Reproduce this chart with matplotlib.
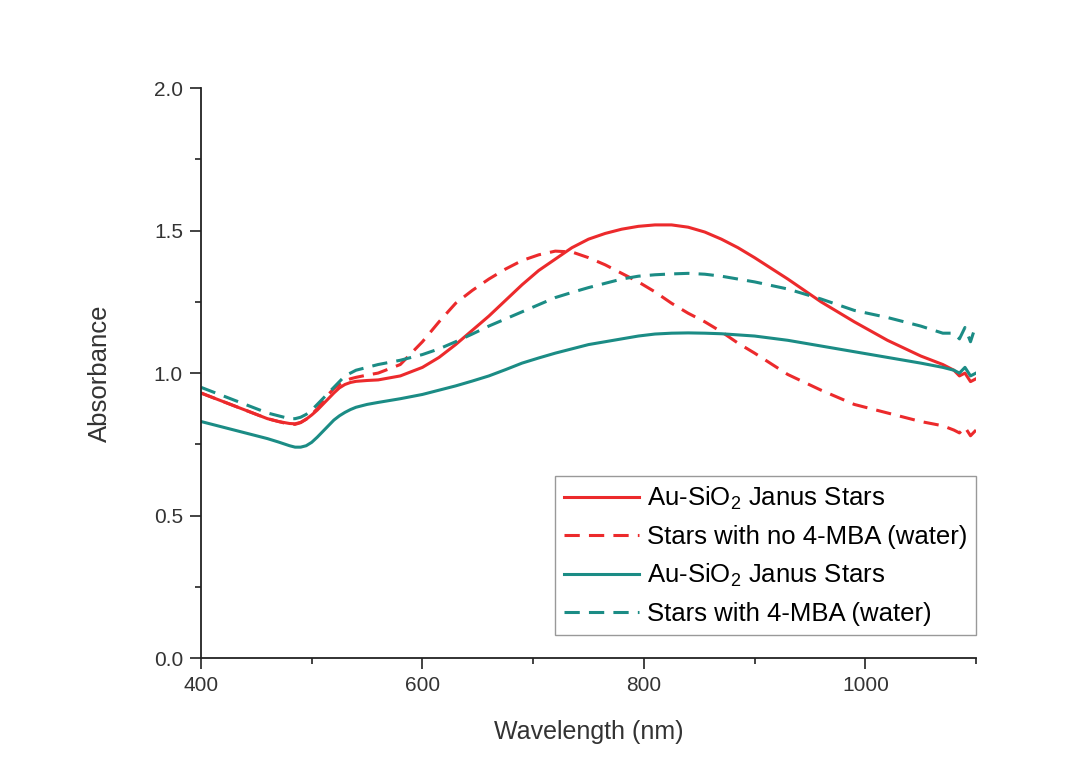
import matplotlib
matplotlib.use('Agg')
import matplotlib.pyplot as plt
from matplotlib.ticker import MultipleLocator, FormatStrFormatter

plt.rcParams['font.family'] = ['Liberation Sans', 'DejaVu Sans']
plt.rcParams['mathtext.default'] = 'regular'

wavelength = [400, 420, 440, 460,
              470, 480, 485, 490, 495, 500, 505, 510, 515, 520, 525, 530, 535, 540,
              550, 560, 580, 600,
              615, 630, 645, 660, 675, 690, 705, 720, 735, 750, 765, 780, 795, 810,
              825, 840, 855, 870, 885, 900,
              930, 960, 990, 1020, 1050,
              1070, 1080, 1085, 1090, 1095, 1100]

janus_red = [0.93, 0.90, 0.87, 0.84,
             0.83, 0.823, 0.822, 0.827, 0.838, 0.853, 0.87, 0.89, 0.91, 0.93,
             0.948, 0.96, 0.967, 0.971,
             0.974, 0.976, 0.99, 1.02,
             1.055, 1.10, 1.15, 1.20, 1.255, 1.31, 1.36, 1.40, 1.44, 1.47, 1.49,
             1.505, 1.515, 1.52, 1.52, 1.512, 1.495, 1.47, 1.44, 1.405,
             1.33, 1.25, 1.18, 1.115, 1.06,
             1.03, 1.01, 0.99, 1.00, 0.97, 0.98]
no_mba = [0.93, 0.90, 0.87, 0.84,
          0.83, 0.82, 0.82, 0.826, 0.838, 0.855, 0.875, 0.90, 0.925, 0.945,
          0.96, 0.972, 0.98, 0.985,
          0.993, 1.00, 1.03, 1.11,
          1.18, 1.245, 1.29, 1.33, 1.365, 1.395, 1.415, 1.428, 1.425, 1.405,
          1.38, 1.35, 1.32, 1.285, 1.245, 1.21, 1.18, 1.145, 1.105, 1.07,
          0.995, 0.94, 0.89, 0.86, 0.83,
          0.815, 0.80, 0.79, 0.81, 0.78, 0.80]
janus_teal = [0.83, 0.81, 0.79, 0.77,
              0.758, 0.745, 0.74, 0.74, 0.745, 0.757, 0.775, 0.795, 0.815, 0.835,
              0.85, 0.862, 0.872, 0.88,
              0.89, 0.897, 0.91, 0.925,
              0.94, 0.955, 0.972, 0.99, 1.012, 1.035, 1.053, 1.07, 1.085, 1.10,
              1.11, 1.12, 1.13, 1.137, 1.14, 1.141, 1.14, 1.138, 1.134, 1.13,
              1.115, 1.095, 1.075, 1.055, 1.035,
              1.02, 1.01, 1.00, 1.02, 0.99, 1.00]
with_mba = [0.95, 0.92, 0.89, 0.86,
            0.85, 0.84, 0.84, 0.845, 0.855, 0.87, 0.89, 0.91, 0.93, 0.95,
            0.97, 0.99, 1.00, 1.01,
            1.02, 1.03, 1.045, 1.065,
            1.085, 1.11, 1.137, 1.165, 1.19, 1.215, 1.24, 1.265, 1.283, 1.30,
            1.315, 1.33, 1.34, 1.345, 1.348, 1.35, 1.347, 1.34, 1.33, 1.32,
            1.295, 1.26, 1.22, 1.195, 1.165,
            1.14, 1.14, 1.12, 1.16, 1.11, 1.17]

red = '#ec2a2c'
teal = '#1b8c85'

fig = plt.figure(figsize=(10.76, 7.8), dpi=100)
ax = fig.add_axes([0.1868, 0.1564, 0.7203, 0.7306])

ax.plot(wavelength, janus_red, color=red, lw=2.2, label='Au-SiO$_2$ Janus Stars')
ax.plot(wavelength, no_mba, color=red, lw=2.2, dashes=(5, 3),
        label='Stars with no 4-MBA (water)')
ax.plot(wavelength, janus_teal, color=teal, lw=2.2, label='Au-SiO$_2$ Janus Stars')
ax.plot(wavelength, with_mba, color=teal, lw=2.2, dashes=(5, 3),
        label='Stars with 4-MBA (water)')

ax.set_xlim(400, 1100)
ax.set_ylim(0, 2.0)
ax.xaxis.set_major_locator(MultipleLocator(200))
ax.xaxis.set_minor_locator(MultipleLocator(100))
ax.yaxis.set_major_locator(MultipleLocator(0.5))
ax.yaxis.set_minor_locator(MultipleLocator(0.25))
ax.yaxis.set_major_formatter(FormatStrFormatter('%.1f'))

for side in ['top', 'right']:
    ax.spines[side].set_visible(False)
for side in ['left', 'bottom']:
    ax.spines[side].set_linewidth(1.3)
    ax.spines[side].set_color('#222222')

ax.tick_params(which='major', direction='out', length=8, width=1.2, pad=5,
               labelsize=15, colors='#222222', labelcolor='#333333')
ax.tick_params(which='minor', direction='out', length=4, width=1.2,
               colors='#222222')

ax.set_xlabel('Wavelength (nm)', fontsize=18, color='#333333', labelpad=18)
ax.set_ylabel('Absorbance', fontsize=18.5, color='#333333', labelpad=30)

ax.legend(loc='lower right', bbox_to_anchor=(1.0, 0.04), borderaxespad=0,
          fontsize=18.5, frameon=True, fancybox=False, edgecolor='#999999',
          framealpha=1, handlelength=2.9, handletextpad=0.3,
          labelspacing=0.5, borderpad=0.35)

fig.savefig('out.png', dpi=100)
